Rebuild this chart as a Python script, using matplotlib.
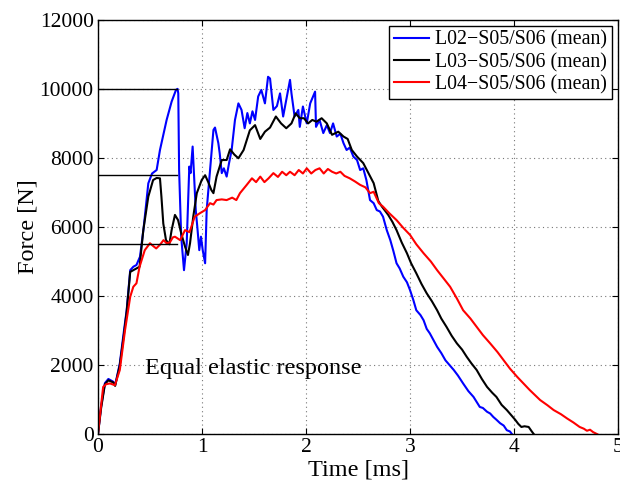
import matplotlib
matplotlib.use("Agg")
import matplotlib.pyplot as plt

# ---- data ----
t_l02 = [0, 0.03, 0.067, 0.1, 0.147, 0.165, 0.21, 0.25, 0.276, 0.31, 0.34, 0.37, 0.404, 0.44, 0.484, 0.52,
         0.564, 0.596, 0.63, 0.66, 0.708, 0.75, 0.765, 0.772, 0.78, 0.80, 0.827, 0.853, 0.878, 0.89, 0.91,
         0.926, 0.94, 0.955, 0.974, 0.99, 1.007, 1.03, 1.045, 1.077, 1.11, 1.125, 1.157, 1.17, 1.19, 1.21,
         1.237, 1.26, 1.285, 1.317, 1.35, 1.38, 1.41, 1.436, 1.46, 1.485, 1.51, 1.54, 1.57, 1.605, 1.635,
         1.654, 1.686, 1.72, 1.75, 1.78, 1.81, 1.846, 1.86, 1.89, 1.926, 1.94, 1.97, 2.007, 2.04, 2.087,
         2.096, 2.13, 2.166, 2.2, 2.23, 2.26, 2.295, 2.33, 2.36, 2.39, 2.42, 2.455, 2.49, 2.52, 2.55, 2.58,
         2.615, 2.65, 2.68, 2.71, 2.74, 2.776, 2.81, 2.84, 2.87, 2.9, 2.935, 2.97, 3.0, 3.03, 3.06, 3.1,
         3.13, 3.16, 3.19, 3.23, 3.26, 3.3, 3.34, 3.38, 3.42, 3.46, 3.51, 3.56, 3.61, 3.67, 3.70, 3.74,
         3.77, 3.80, 3.83, 3.865, 3.9, 3.93, 3.96, 3.98]
f_l02 = [0, 800, 1480, 1600, 1520, 1420, 2050, 3000, 3590, 4750, 4850, 4900, 5140, 6000, 7265, 7550,
         7650, 8230, 8700, 9100, 9630, 9970, 10000, 9870, 7650, 5720, 4750, 5530, 7750, 7560, 8330,
         7360, 6490, 6000, 5330, 5720, 5330, 4950, 6490, 7650, 8810, 8880, 8430, 8140, 7560, 7700,
         7460, 7850, 8230, 9100, 9580, 9390, 8860, 9300, 9000, 9350, 9100, 9780, 9970, 9580, 10350,
         10300, 9390, 9500, 9870, 9200, 9680, 10260, 9870, 9200, 9390, 8900, 9490, 9000, 9580, 9920,
         8900, 9100, 8720, 8950, 8720, 9000, 8620, 8700, 8430, 8230, 8300, 8040, 7940, 7650, 7700, 7360,
         6780, 6690, 6490, 6450, 6300, 5910, 5620, 5300, 4950, 4800, 4560, 4400, 4170, 3900, 3590, 3450,
         3300, 3050, 2920, 2700, 2530, 2350, 2140, 2000, 1860, 1700, 1470, 1250, 1080, 790, 760, 650,
         600, 500, 420, 320, 250, 116, 80, 0]

t_l03 = [0, 0.03, 0.067, 0.1, 0.147, 0.165, 0.21, 0.25, 0.276, 0.31, 0.34, 0.37, 0.40, 0.436, 0.484, 0.53,
         0.564, 0.596, 0.61, 0.628, 0.654, 0.686, 0.708, 0.74, 0.77, 0.80, 0.837, 0.865, 0.885, 0.916,
         0.95, 0.997, 1.03, 1.06, 1.09, 1.11, 1.14, 1.19, 1.237, 1.27, 1.31, 1.35, 1.40, 1.46, 1.51, 1.56,
         1.605, 1.654, 1.71, 1.76, 1.81, 1.86, 1.90, 1.94, 1.98, 2.02, 2.06, 2.10, 2.15, 2.20, 2.25, 2.31,
         2.36, 2.40, 2.44, 2.49, 2.55, 2.60, 2.65, 2.695, 2.73, 2.79, 2.83, 2.87, 2.92, 2.97, 3.01, 3.06,
         3.11, 3.16, 3.21, 3.26, 3.30, 3.35, 3.40, 3.45, 3.50, 3.545, 3.59, 3.64, 3.69, 3.74, 3.79, 3.83,
         3.88, 3.93, 3.97, 4.01, 4.04, 4.07, 4.10, 4.14, 4.17, 4.19]
f_l03 = [0, 750, 1450, 1560, 1500, 1400, 2000, 2900, 3550, 4700, 4750, 4800, 4850, 5910, 6880, 7360,
         7420, 7410, 6880, 6100, 5620, 5500, 5910, 6350, 6200, 5820, 5430, 5190, 5530, 6300,
         6980, 7360, 7500, 7300, 7070, 6980, 7460, 7940, 7940, 8250, 8100, 7990, 8230, 8800, 8950, 8550,
         8760, 8880, 9200, 9000, 8860, 9000, 9290, 9150, 9150, 9000, 9100, 9050, 9150, 9000, 8670, 8760,
         8620, 8550, 8230, 8040, 7850, 7560, 7270, 6750, 6590, 6350, 6150, 5910, 5550, 5240, 4950, 4660,
         4350, 4080, 3850, 3590, 3350, 3110, 2850, 2630, 2450, 2240, 2050, 1860, 1600, 1370, 1200, 1080,
         850, 700, 560, 420, 300, 210, 230, 210, 80, 0]

t_l04 = [0, 0.025, 0.05, 0.08, 0.115, 0.163, 0.21, 0.26, 0.31, 0.34, 0.37, 0.40, 0.45, 0.50, 0.53, 0.56,
         0.60, 0.63, 0.66, 0.69, 0.72, 0.74, 0.79, 0.837, 0.88, 0.93, 0.98, 1.03, 1.077, 1.11, 1.14, 1.19,
         1.237, 1.29, 1.33, 1.365, 1.43, 1.48, 1.52, 1.56, 1.60, 1.64, 1.686, 1.73, 1.77, 1.81, 1.846,
         1.89, 1.93, 1.97, 2.007, 2.05, 2.09, 2.13, 2.17, 2.21, 2.25, 2.29, 2.33, 2.37, 2.42, 2.47, 2.52,
         2.57, 2.615, 2.65, 2.70, 2.74, 2.80, 2.87, 2.93, 3.0, 3.06, 3.13, 3.2, 3.26, 3.32, 3.385, 3.45,
         3.51, 3.58, 3.64, 3.70, 3.77, 3.84, 3.90, 3.96, 4.03, 4.09, 4.15, 4.25, 4.32, 4.38, 4.45, 4.51,
         4.57, 4.63, 4.67, 4.70, 4.73, 4.76, 4.80]
f_l04 = [0, 700, 1370, 1450, 1470, 1420, 1860, 3010, 3980, 4270, 4370, 4850, 5330, 5530, 5450, 5380,
         5500, 5620, 5530, 5550, 5700, 5720, 5620, 5910, 5850, 6300, 6400, 6490, 6690, 6650, 6780, 6800,
         6780, 6850, 6780, 6980, 7220, 7410, 7300, 7460, 7300, 7410, 7560, 7450, 7600, 7500, 7600,
         7500, 7650, 7550, 7700, 7550, 7650, 7700, 7550, 7680, 7600, 7550, 7600, 7480, 7410, 7320, 7220,
         7150, 6980, 7020, 6690, 6590, 6400, 6200, 5990, 5770, 5500, 5240, 5000, 4750, 4520, 4270, 3930,
         3590, 3350, 3110, 2870, 2630, 2380, 2140, 1900, 1660, 1470, 1280, 990, 840, 700, 580, 455,
         340, 210, 160, 100, 130, 60, 0]

labels = ["L02\u2212S05/S06 (mean)", "L03\u2212S05/S06 (mean)", "L04\u2212S05/S06 (mean)"]
colors = ["#0000ff", "#000000", "#ff0000"]
ref_levels = [10000, 7500, 5500]
ref_end = 0.757
xticks = [0, 1, 2, 3, 4, 5]
yticks = [0, 2000, 4000, 6000, 8000, 10000, 12000]

plt.rcParams['font.family'] = ['Liberation Serif', 'DejaVu Serif']

fig = plt.figure(figsize=(6.2, 4.83), dpi=100)
ax = fig.add_axes([0.158, 0.101, 0.839, 0.858])

for t, f, c, lab in zip([t_l02, t_l03, t_l04], [f_l02, f_l03, f_l04], colors, labels):
    ax.plot(t, f, color=c, lw=1.5, label=lab)

for lv in ref_levels:
    ax.plot([0, ref_end], [lv, lv], color='black', lw=1.0)

ax.set_xlim(0, 5)
ax.set_ylim(0, 12000)
ax.set_xticks(xticks)
ax.set_yticks(yticks)
ax.grid(True, linestyle=(0, (1, 3)), color='#777777', lw=0.8)
ax.tick_params(direction='in', top=True, right=True, labelsize=15.5, length=4, pad=3)
for s in ax.spines.values():
    s.set_linewidth(1.0)

ax.set_xlabel("Time [ms]", fontsize=17.5, labelpad=1.5)
ax.set_ylabel("Force [N]", fontsize=17.5, labelpad=1)

ax.text(0.45, 1900, "Equal elastic response", fontsize=17.5, va='center', ha='left')

leg = ax.legend(loc='upper right', fontsize=14.3, frameon=True, fancybox=False,
                edgecolor='black', framealpha=1, borderaxespad=0.3, handlelength=1.8,
                labelspacing=0.15, borderpad=0.25, handletextpad=0.3)
leg.get_frame().set_linewidth(1.0)

fig.savefig("out.png", dpi=100)
